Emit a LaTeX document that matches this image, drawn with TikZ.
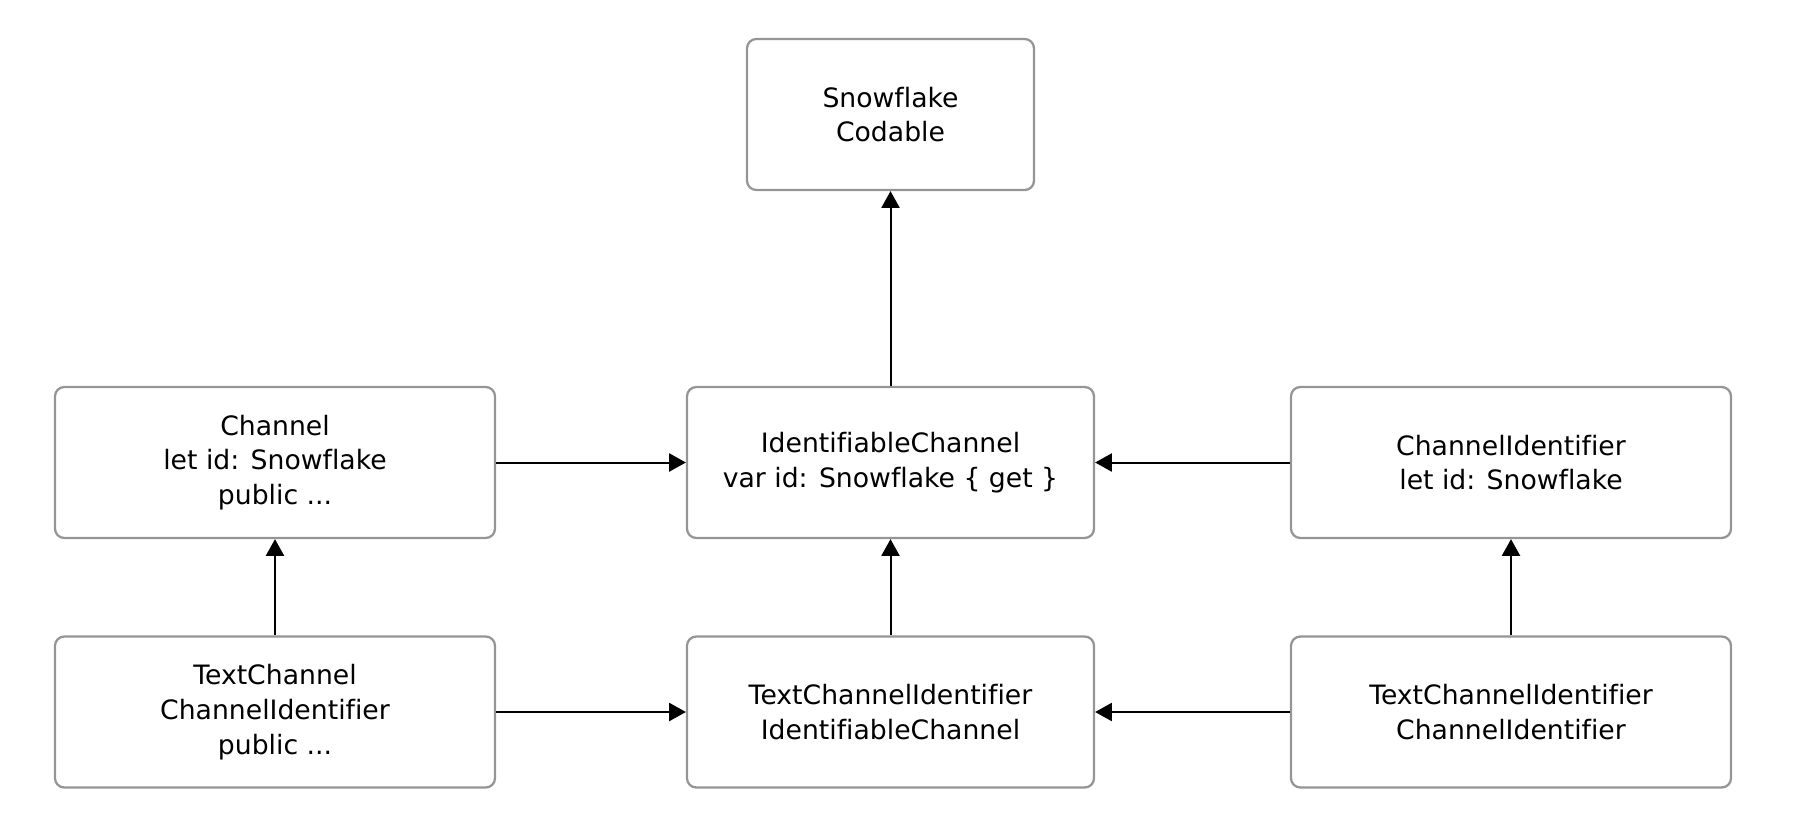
\documentclass[tikz,border=0pt]{standalone}
\usepackage{fontspec}
\setmainfont{DejaVu Sans}[Ligatures={NoCommon}]
\usetikzlibrary{arrows.meta}
\definecolor{borderc}{HTML}{959595}
\tikzset{
  box/.style={draw=borderc, line width=1.7pt, rounded corners=7pt, rectangle, inner sep=0pt,
    align=center, font=\fontsize{20}{26}\selectfont, text=black, minimum height=113.25pt},
  wide/.style={box, minimum width=330pt},
  mid/.style={box, minimum width=305.25pt},
  top/.style={box, minimum width=215.25pt},
  conn/.style={line width=1.5pt, -{Triangle[length=12.5pt,width=13.5pt]}}
}
\begin{document}
\begin{tikzpicture}[x=0.75pt, y=-0.75pt]
\useasboundingbox (0,0) rectangle (1808,836);
\node[top] (snow) at (890.5,114.5) {Snowflake\\Codable};
\node[wide] (chan) at (275,462.5) {Channel\\let id: Snowflake\\public ...};
\node[mid] (ident) at (890.5,462.5) {IdentifiableChannel\\var id: Snowflake \{ get \}};
\node[wide] (chid) at (1511,462.5) {ChannelIdentifier\\let id: Snowflake};
\node[wide] (text) at (275,712) {TextChannel\\ChannelIdentifier\\public ...};
\node[mid] (tci) at (890.5,712) {TextChannelIdentifier\\IdentifiableChannel};
\node[wide] (tcici) at (1511,712) {TextChannelIdentifier\\ChannelIdentifier};
\draw[conn] (ident) -- (snow);
\draw[conn] (chan) -- (ident);
\draw[conn] (chid) -- (ident);
\draw[conn] (text) -- (chan);
\draw[conn] (tci) -- (ident);
\draw[conn] (tcici) -- (chid);
\draw[conn] (text) -- (tci);
\draw[conn] (tcici) -- (tci);
\end{tikzpicture}
\end{document}
